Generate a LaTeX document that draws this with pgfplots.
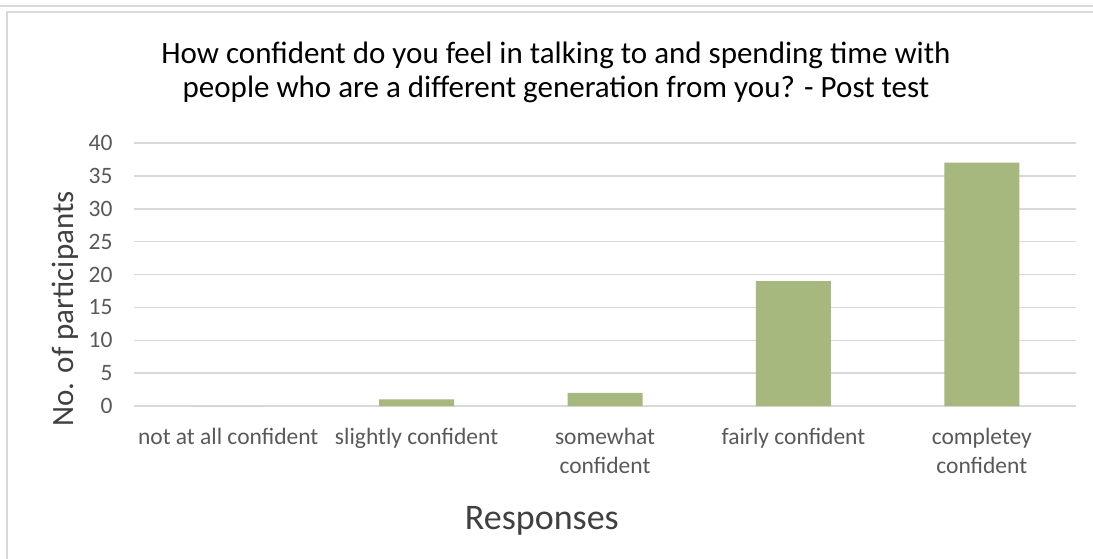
\documentclass[border=0pt]{standalone}
\usepackage{pgfplots}
\pgfplotsset{compat=1.18}
\usepackage{fontspec}
\setmainfont{Carlito}
\definecolor{barc}{HTML}{A6B87D}
\definecolor{gridc}{HTML}{D9D9D9}
\definecolor{tickc}{HTML}{595959}
\definecolor{labc}{HTML}{404040}
\begin{document}
\begin{tikzpicture}
\path[use as bounding box] (0pt,0pt) rectangle (1093pt,558pt);
\fill[white] (0pt,0pt) rectangle (1093pt,558pt);
\draw[gridc, line width=1.5pt] (-5pt,552pt) -- (1100pt,552pt);
\draw[gridc, line width=2pt] (7pt,-5pt) -- (7pt,546pt) -- (1100pt,546pt);
\begin{axis}[
  at={(134pt,152pt)}, anchor=south west,
  scale only axis, width=942pt, height=263pt,
  ymin=0, ymax=40, ytick={0,5,...,40},
  xmin=-0.5, xmax=4.5, xtick={0,1,2,3,4},
  xticklabels={not at all confident, slightly confident, {somewhat\\confident}, fairly confident, {completey\\confident}},
  axis line style={draw=none},
  major tick length=0pt,
  ymajorgrids, major grid style={gridc, line width=1.5pt},
  /pgf/number format/assume math mode=true,
  yticklabel style={font=\fontsize{23.5}{28}\selectfont, text=tickc, xshift=-18pt},
  xticklabel style={font=\fontsize{23.5}{28.5}\selectfont, text=tickc, align=center, yshift=-19pt},
  title={How confident do you feel in talking to and spending time with\\people who are a different generation from you? - Post test},
  title style={at={(axis description cs:0.448,1.246)}, anchor=center, align=center, font=\fontsize{31}{34.5}\selectfont, text=black},
  ylabel={No. of participants},
  ylabel style={at={(axis description cs:-0.073,0.369)}, anchor=center, font=\fontsize{31}{37}\selectfont, text=labc},
  xlabel={Responses},
  xlabel style={at={(axis description cs:0.433,-0.435)}, anchor=center, font=\fontsize{36}{40}\selectfont, text=labc},
  ybar, bar width=75pt,
]
\addplot[fill=barc, draw=none] coordinates {(0,0) (1,1) (2,2) (3,19) (4,37)};
\end{axis}
\end{tikzpicture}
\end{document}
